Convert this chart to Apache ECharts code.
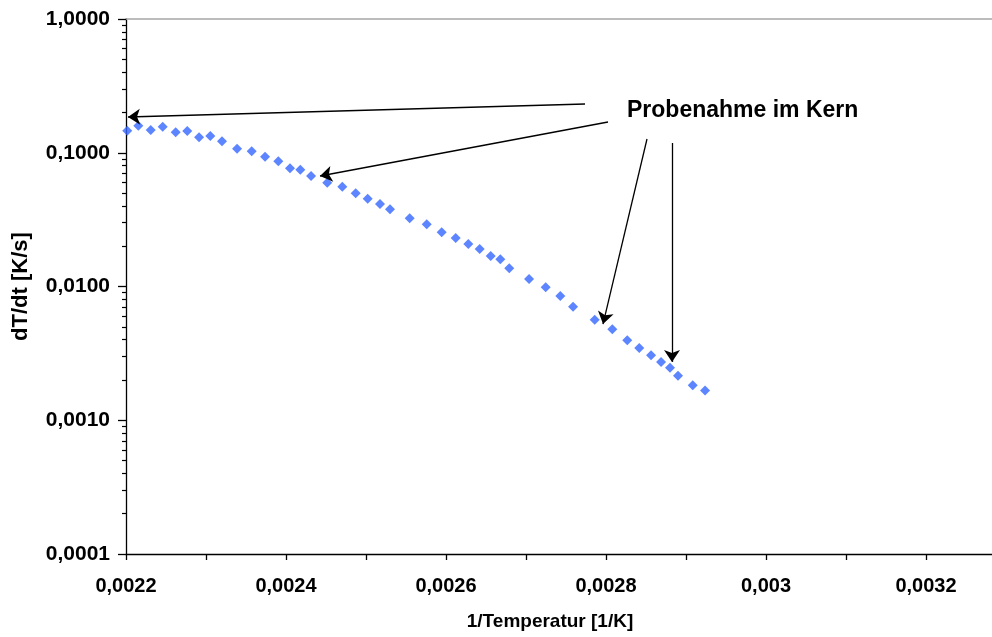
<!DOCTYPE html>
<html>
<head>
<meta charset="utf-8">
<script src="https://cdn.jsdelivr.net/npm/echarts@6/dist/echarts.min.js"></script>
<style>html,body{margin:0;padding:0;background:#fff}#c{width:992px;height:637px}</style>
</head>
<body>
<div id="c"></div>
<script>
// 1/Temperatur [1/K]
const xValues = [0.0022016,0.0022154,0.0022309,0.0022459,0.0022621,0.0022766,0.0022913,0.0023054,0.0023200,0.0023388,
  0.0023571,0.0023738,0.0023904,0.0024050,0.0024179,0.0024313,0.0024516,0.0024704,0.0024871,0.0025021,
  0.0025175,0.0025300,0.0025546,0.0025759,0.0025946,0.0026121,0.0026279,0.0026421,0.0026559,0.0026679,
  0.0026791,0.0027038,0.0027246,0.0027429,0.0027588,0.0027859,0.0028079,0.0028266,0.0028416,0.0028563,
  0.0028688,0.0028800,0.0028900,0.0029084,0.0029238];
// dT/dt [K/s]
const yValues = [0.1462,0.1593,0.1480,0.1566,0.1422,0.1454,0.1305,0.1335,0.1218,0.1072,
  0.1025,0.0934,0.0863,0.0765,0.0747,0.0670,0.0597,0.0557,0.0497,0.0453,
  0.0414,0.0378,0.0324,0.0292,0.0254,0.0230,0.0208,0.0191,0.0169,0.0160,
  0.0137,0.0114,0.00986,0.00849,0.00706,0.00564,0.00479,0.00396,0.00347,0.00306,
  0.00273,0.00247,0.00215,0.00183,0.00167];
const yMajorTicks = [0.0001, 0.001, 0.01, 0.1, 1];
const yMinorTicks = [];
for (let d = 0.0001; d < 1; d *= 10) for (let k = 2; k <= 9; k++) yMinorTicks.push(+(d * k).toPrecision(3));
const annotationText = 'Probenahme im Kern';
// arrows: [start [x,y], end [x,y]] in data units
const arrows = [
  [[0.00277375, 0.2314], [0.0022025, 0.1851]],
  [[0.0028025, 0.1698], [0.0024425, 0.0670]],
  [[0.00285125, 0.1267], [0.00279625, 0.00524]],
  [[0.0028825, 0.1183], [0.0028825, 0.00273]]
];

const FONT = 'Liberation Sans, Arial, sans-serif';
const chart = echarts.init(document.getElementById('c'), null, {renderer: 'canvas'});
const data = xValues.map((x, i) => [x, yValues[i]]);

chart.setOption({
  animation: false,
  backgroundColor: '#fff',
  grid: {left: 126, right: 0, top: 19, bottom: 83},
  xAxis: [{
    type: 'value', min: 0.0022, max: 0.0032825, interval: 0.0001,
    name: '1/Temperatur [1/K]', nameLocation: 'middle', nameGap: 58,
    nameTextStyle: {fontFamily: FONT, fontWeight: 'bold', fontSize: 19, color: '#000', padding: [0, 18, 0, 0]},
    axisLine: {lineStyle: {color: '#000', width: 1.3}},
    axisTick: {length: 6, lineStyle: {color: '#000', width: 1.3}},
    splitLine: {show: false},
    axisLabel: {
      margin: 22, fontFamily: FONT, fontWeight: 'bold', fontSize: 20, color: '#000', showMaxLabel: false,
      formatter: v => (Math.round(v * 10000) % 2 === 0 ? String(+v.toFixed(6)).replace('.', ',') : '')
    }
  }, {
    type: 'value', position: 'top', min: 0.0022, max: 0.0032825,
    axisLine: {show: true, lineStyle: {color: '#a6a6a6', width: 1.5}},
    axisTick: {show: false}, axisLabel: {show: false}, splitLine: {show: false}
  }],
  yAxis: [{
    type: 'log', logBase: 10, min: 0.0001, max: 1,
    name: 'dT/dt [K/s]', nameLocation: 'middle', nameGap: 94,
    nameTextStyle: {fontFamily: FONT, fontWeight: 'bold', fontSize: 22, color: '#000'},
    axisLine: {show: true, lineStyle: {color: '#000', width: 1.3}},
    axisTick: {show: true, length: 8, customValues: yMajorTicks, lineStyle: {color: '#000', width: 1.3}},
    splitLine: {show: false},
    axisLabel: {customValues: yMajorTicks, margin: 16, fontFamily: FONT, fontWeight: 'bold', fontSize: 21, color: '#000',
      formatter: v => v.toFixed(4).replace('.', ',')}
  }, {
    type: 'log', logBase: 10, min: 0.0001, max: 1, position: 'left',
    axisLine: {show: false},
    axisTick: {show: true, length: 4, customValues: yMinorTicks, lineStyle: {color: '#000', width: 1.2}},
    axisLabel: {show: false},
    splitLine: {show: false}
  }],
  series: [{
    type: 'scatter', xAxisIndex: 0, yAxisIndex: 0, data: data,
    symbol: 'diamond', symbolSize: 10,
    itemStyle: {color: '#3366ff'},
    markLine: {
      silent: true, animation: false,
      symbol: ['none', 'arrow'], symbolSize: 12,
      label: {show: false},
      lineStyle: {color: '#000', width: 1.3, type: 'solid'},
      itemStyle: {color: '#000'},
      emphasis: {disabled: true},
      data: arrows.map(a => [{coord: a[0]}, {coord: a[1]}])
    }
  }],
  graphic: [{
    type: 'text', left: 627, top: 99,
    style: {text: annotationText, fontFamily: FONT, fontWeight: 'bold', fontSize: 23, fill: '#000'}
  }]
});
</script>
</body>
</html>
